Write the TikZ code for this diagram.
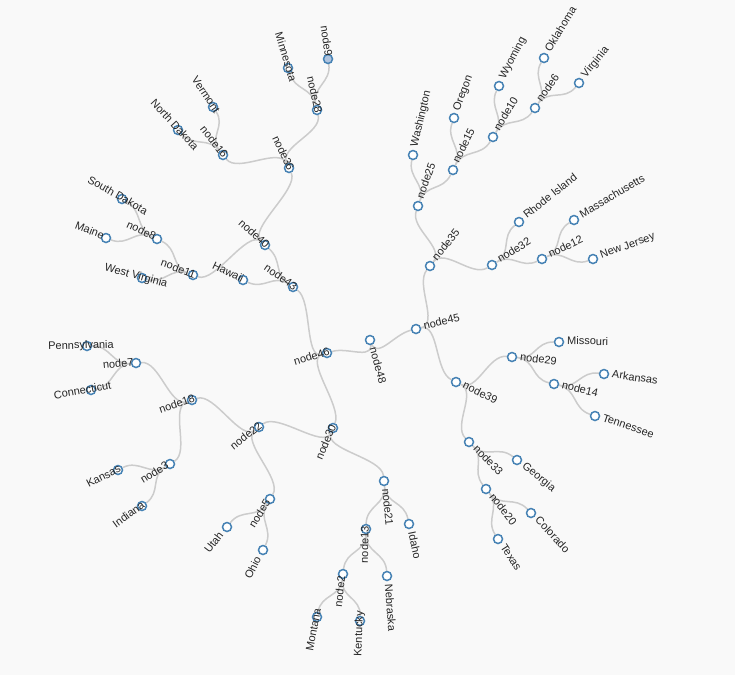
\documentclass[tikz,border=0pt]{standalone}
\usepackage{fontspec}
\setmainfont{Liberation Sans}
\usetikzlibrary{calc}
\definecolor{steelblue}{RGB}{70,130,180}
\definecolor{lightsteel}{RGB}{176,196,222}
\definecolor{linkgray}{RGB}{204,204,204}
\definecolor{pagegray}{RGB}{249,249,249}
\newcommand{\labfont}{\fontsize{11}{13}\selectfont}
\newlength{\labwd}
\pgfdeclarelayer{bg}
\pgfdeclarelayer{links}
\pgfsetlayers{bg,links,main}

% tree node: [style]{name}{x}{y}{text}, label turned along the radius
\newcommand{\tnode}[5][dot]{%
  \node[#1] (#2) at (#3,#4) {};
  \pgfmathsetmacro{\nodeang}{atan2(#4-340,#3-370)}%
  \pgfmathtruncatemacro{\onleft}{abs(\nodeang)>90}%
  \ifnum\onleft=1
    \pgfinterruptpicture
      \settowidth{\labwd}{\normalfont\labfont #5}\global\labwd=\labwd
    \endpgfinterruptpicture
    \pgfmathsetmacro{\labshift}{0.84*\labwd-28}%
    \node[lab, anchor=mid east, rotate=180-\nodeang] at ($(#2)+(\nodeang+180:\labshift)$) {#5};
  \else
    \node[lab, anchor=mid west, rotate=-\nodeang] at ($(#2)+(\nodeang:8)$) {#5};
  \fi
}

\begin{document}
\begin{tikzpicture}[
    x=1pt, y=-1pt,
    dot/.style={circle, draw=steelblue, fill=white, line width=1.5pt, minimum size=9pt, inner sep=0pt},
    dotc/.style={dot, fill=lightsteel},
    lab/.style={font=\labfont, text=black!85, inner sep=0pt},
    linkline/.style={draw=linkgray, line width=1.5pt},
    link/.style={linkline, to path={.. controls ($(\tikztostart)!-23.7pt!(ctr)$) and ($(\tikztotarget)!23.7pt!(ctr)$) .. (\tikztotarget)}}
]
\useasboundingbox (0,0) rectangle (735,675);
\begin{pgfonlayer}{bg}
\fill[pagegray] (0,0) rectangle (735,675);
\end{pgfonlayer}

% Root
\coordinate (ctr) at (370,340);
\coordinate (rootdir) at ($(ctr)+(74.8:23)$);
\node[dot] (node48) at (ctr) {};
\node[lab, anchor=mid west, rotate=-74.8] at ($(node48)+(74.8:8)$) {node48};
\tnode{node46}{327}{353}{node46}
\tnode{node45}{416}{329}{node45}

% Upper left branch
\tnode{node43}{293}{287}{node43}
\tnode{node40}{265}{245}{node40}
\tnode{hawaii}{243}{280}{Hawaii}
\tnode{node36}{289}{168}{node36}
\tnode{node11}{193}{275}{node11}
\tnode{node16}{223}{155}{node16}
\tnode{node28}{317}{110}{node28}
\tnode{ndakota}{178}{130}{North Dakota}
\tnode{vermont}{213}{107}{Vermont}
\tnode{minnesota}{288}{68}{Minnesota}
\tnode[dotc]{node9}{328}{59}{node9}
\tnode{node8}{157}{239}{node8}
\tnode{wvirginia}{142}{278}{West Virginia}
\tnode{sdakota}{122}{199}{South Dakota}
\tnode{maine}{106}{238}{Maine}

% Lower left branch
\tnode{node30}{333}{428}{node30}
\tnode{node22}{259}{427}{node22}
\tnode{node21}{384}{481}{node21}
\tnode{node18}{192}{400}{node18}
\tnode{node5}{270}{499}{node5}
\tnode{node7}{136}{363}{node7}
\tnode{node3}{170}{464}{node3}
\tnode{pennsylvania}{87}{346}{Pennsylvania}
\tnode{connecticut}{91}{390}{Connecticut}
\tnode{kansas}{118}{470}{Kansas}
\tnode{indiana}{142}{506}{Indiana}
\tnode{utah}{227}{527}{Utah}
\tnode{ohio}{263}{550}{Ohio}
\tnode{node13}{366}{529}{node13}
\tnode{idaho}{409}{524}{Idaho}
\tnode{node2}{343}{574}{node2}
\tnode{nebraska}{387}{576}{Nebraska}
\tnode{montana}{317}{617}{Montana}
\tnode{kentucky}{360}{621}{Kentucky}

% Upper right branch
\tnode{node35}{430}{266}{node35}
\tnode{node25}{418}{206}{node25}
\tnode{node32}{492}{265}{node32}
\tnode{washington}{413}{155}{Washington}
\tnode{node15}{453}{170}{node15}
\tnode{oregon}{454}{118}{Oregon}
\tnode{node10}{493}{137}{node10}
\tnode{wyoming}{499}{86}{Wyoming}
\tnode{node6}{535}{108}{node6}
\tnode{oklahoma}{544}{58}{Oklahoma}
\tnode{virginia}{579}{83}{Virginia}
\tnode{rhodeisland}{519}{222}{Rhode Island}
\tnode{node12}{542}{259}{node12}
\tnode{massachusetts}{574}{220}{Massachusetts}
\tnode{newjersey}{593}{259}{New Jersey}

% Lower right branch
\tnode{node39}{456}{382}{node39}
\tnode{node29}{512}{357}{node29}
\tnode{node33}{469}{442}{node33}
\tnode{missouri}{559}{342}{Missouri}
\tnode{node14}{554}{384}{node14}
\tnode{arkansas}{604}{374}{Arkansas}
\tnode{tennessee}{595}{416}{Tennessee}
\tnode{georgia}{517}{460}{Georgia}
\tnode{node20}{486}{489}{node20}
\tnode{colorado}{531}{513}{Colorado}
\tnode{texas}{498}{539}{Texas}

% Links
\begin{pgfonlayer}{links}
\draw[linkline] (node48.center) .. controls (rootdir) and ($(node46)!22.5pt!(ctr)$) .. (node46);
\draw[linkline] (node48.center) .. controls (rootdir) and ($(node45)!23.6pt!(ctr)$) .. (node45);
\draw[link] (node46) to (node43) (node46) to (node30);
\draw[link] (node43) to (node40) (node43) to (hawaii);
\draw[link] (node40) to (node36) (node40) to (node11);
\draw[link] (node36) to (node16) (node36) to (node28);
\draw[link] (node16) to (ndakota) (node16) to (vermont);
\draw[link] (node28) to (minnesota) (node28) to (node9);
\draw[link] (node11) to (node8) (node11) to (wvirginia);
\draw[link] (node8) to (sdakota) (node8) to (maine);
\draw[link] (node30) to (node22) (node30) to (node21);
\draw[link] (node22) to (node18) (node22) to (node5);
\draw[link] (node18) to (node7) (node18) to (node3);
\draw[link] (node7) to (pennsylvania) (node7) to (connecticut);
\draw[link] (node3) to (kansas) (node3) to (indiana);
\draw[link] (node5) to (utah) (node5) to (ohio);
\draw[link] (node21) to (node13) (node21) to (idaho);
\draw[link] (node13) to (node2) (node13) to (nebraska);
\draw[link] (node2) to (montana) (node2) to (kentucky);
\draw[link] (node45) to (node35) (node45) to (node39);
\draw[link] (node35) to (node25) (node35) to (node32);
\draw[link] (node25) to (washington) (node25) to (node15);
\draw[link] (node15) to (oregon) (node15) to (node10);
\draw[link] (node10) to (wyoming) (node10) to (node6);
\draw[link] (node6) to (oklahoma) (node6) to (virginia);
\draw[link] (node32) to (rhodeisland) (node32) to (node12);
\draw[link] (node12) to (massachusetts) (node12) to (newjersey);
\draw[link] (node39) to (node29) (node39) to (node33);
\draw[link] (node29) to (missouri) (node29) to (node14);
\draw[link] (node14) to (arkansas) (node14) to (tennessee);
\draw[link] (node33) to (georgia) (node33) to (node20);
\draw[link] (node20) to (colorado) (node20) to (texas);
\end{pgfonlayer}

\end{tikzpicture}
\end{document}
